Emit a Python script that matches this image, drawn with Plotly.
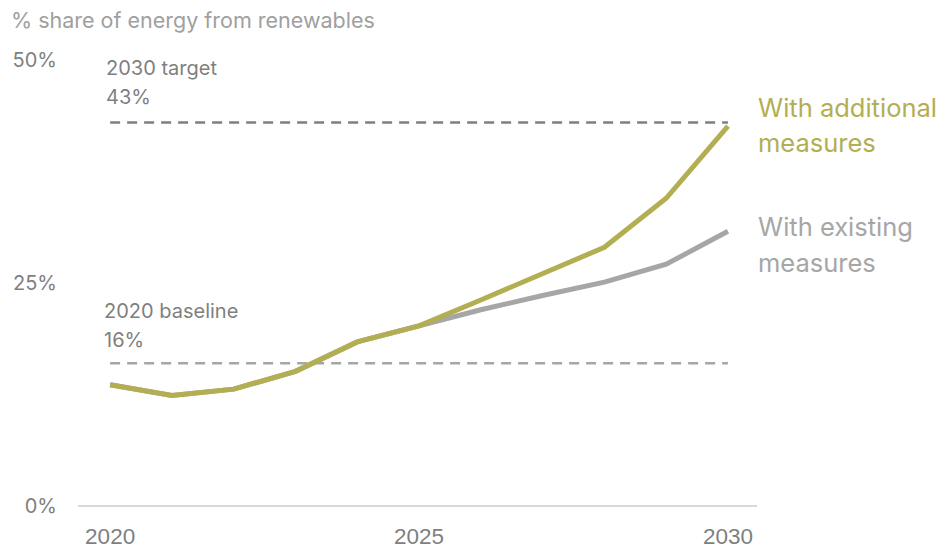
import plotly.graph_objects as go

# Renewable energy share, % of gross final energy consumption
years = [2020, 2021, 2022, 2023, 2024, 2025, 2026, 2027, 2028, 2029, 2030]
existing = [13.6, 12.4, 13.1, 15.1, 18.4, 20.2, 22.0, 23.6, 25.1, 27.1, 30.8]
additional = [13.6, 12.4, 13.1, 15.1, 18.4, 20.2, 23.1, 26.0, 29.0, 34.5, 42.6]

target_value = 43
baseline_value = 16
ref_years = [2020, 2030]

y_ticks = [0, 25, 50]
y_tick_text = ["0%", "25%", "50%"]
x_ticks = [2020, 2025, 2030]

OLIVE = "#b3ae52"
GREY_LINE = "#a6a6a6"
LABEL_GREY = "#7f7f7f"
FONT = "Inter, Open Sans, sans-serif"

fig = go.Figure()

# reference lines
fig.add_trace(go.Scatter(
    x=ref_years, y=[target_value] * 2, mode="lines",
    line=dict(color="#7f7f7f", width=2.5, dash="10px,7px"),
    hoverinfo="skip", showlegend=False, cliponaxis=False))
fig.add_trace(go.Scatter(
    x=ref_years, y=[baseline_value] * 2, mode="lines",
    line=dict(color="#a6a6a6", width=2.5, dash="10px,7px"),
    hoverinfo="skip", showlegend=False, cliponaxis=False))

# scenarios
fig.add_trace(go.Scatter(
    x=years, y=existing, mode="lines", name="With existing measures",
    line=dict(color=GREY_LINE, width=5), showlegend=False, cliponaxis=False))
fig.add_trace(go.Scatter(
    x=years, y=additional, mode="lines", name="With additional measures",
    line=dict(color=OLIVE, width=5), showlegend=False, cliponaxis=False))


def label(x, y, text, size, color, xref="x", yref="y", xshift=0, yshift=0):
    return dict(x=x, y=y, xref=xref, yref=yref, xshift=xshift, yshift=yshift,
                text=text, showarrow=False, xanchor="left", yanchor="middle",
                align="left", font=dict(family=FONT, size=size, color=color))


annotations = [
    # reference line captions
    label(2019.95, target_value, "2030 target", 20, LABEL_GREY, xshift=-3, yshift=54),
    label(2019.95, target_value, f"{target_value}%", 20, LABEL_GREY, xshift=-3, yshift=25),
    label(2019.92, baseline_value, "2020 baseline", 20, LABEL_GREY, xshift=-3, yshift=52),
    label(2019.92, baseline_value, f"{baseline_value}%", 20, LABEL_GREY, xshift=-3, yshift=23),
    # series labels to the right of the plot
    label(1, 1, "With additional", 25.5, OLIVE, xref="paper", yref="paper",
          xshift=-1, yshift=-47),
    label(1, 1, "measures", 25.5, OLIVE, xref="paper", yref="paper",
          xshift=-1, yshift=-82),
    label(1, 1, "With existing", 25.5, GREY_LINE, xref="paper", yref="paper",
          xshift=-1, yshift=-166),
    label(1, 1, "measures", 25.5, GREY_LINE, xref="paper", yref="paper",
          xshift=-1, yshift=-202),
    # subtitle
    label(0, 1, "% share of energy from renewables", 21.5, "#a0a0a0",
          xref="paper", yref="paper", xshift=-69, yshift=40),
]

fig.update_layout(
    width=939, height=548,
    margin=dict(l=78, r=182, t=60, b=42),
    paper_bgcolor="white", plot_bgcolor="white",
    font=dict(family=FONT, color=LABEL_GREY),
    annotations=annotations,
    xaxis=dict(
        range=[2019.48, 2030.47], tickvals=x_ticks, showgrid=False,
        zeroline=False, showline=False, automargin=False,
        ticks="outside", ticklen=10, tickcolor="rgba(0,0,0,0)",
        tickfont=dict(size=22.5, color=LABEL_GREY,
                      family="Liberation Sans, Arial, sans-serif"),
    ),
    yaxis=dict(
        range=[0, 50], tickvals=y_ticks, ticktext=y_tick_text, automargin=False,
        showgrid=False, zeroline=True, zerolinecolor="#d9d9d9", zerolinewidth=2,
        showline=False, ticks="outside", ticklen=16, tickcolor="rgba(0,0,0,0)",
        tickfont=dict(size=20, color=LABEL_GREY),
    ),
)

fig.write_html("out.html")
